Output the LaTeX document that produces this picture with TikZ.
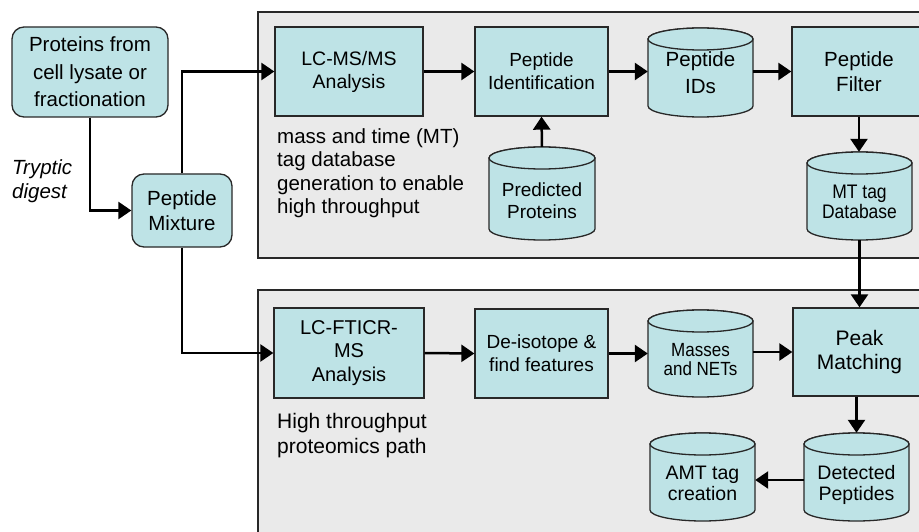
\documentclass[tikz,border=0pt]{standalone}
\usepackage{fontspec}
\usepackage{graphicx}
\setmainfont{Liberation Sans}
\usetikzlibrary{arrows.meta}
\definecolor{boxfill}{RGB}{190,227,230}
\definecolor{panelfill}{RGB}{234,234,234}
\definecolor{linecol}{RGB}{40,40,40}
\tikzset{
  proc/.style={draw=linecol, fill=boxfill, line width=1.3pt, inner sep=0pt, align=center},
  rproc/.style={proc, rounded corners=12pt},
  cylbody/.style={draw=linecol, fill=boxfill, line width=1.3pt},
  cyltext/.style={inner sep=0pt, align=center},
  panel/.style={draw=linecol, fill=panelfill, line width=1.3pt},
  arr/.style={line width=2.5pt, draw=black, -{Triangle[length=13pt,width=17pt]}},
  note/.style={inner sep=0pt, align=left, anchor=north west},
}
% box: style, name, x1, y1, x2, y2, text  (pixel coords, y downward)
\newcommand\mkbox[7]{%
  \pgfmathsetmacro\mybw{#5-#3}%
  \pgfmathsetmacro\mybh{#6-#4}%
  \pgfmathsetmacro\mybx{(#3+#5)/2}%
  \pgfmathsetmacro\myby{-(#4+#6)/2}%
  \node[#1, minimum width=\mybw pt, minimum height=\mybh pt] (#2) at (\mybx,\myby) {#7};
}
% cylinder: font, name, x1, ytop, x2, ybot, extra top space (2x text shift), text
\newcommand\mkcyl[8]{%
  \pgfmathsetmacro\mycx{(#3+#5)/2}%
  \pgfmathsetmacro\myrx{(#5-#3)/2}%
  \pgfmathsetmacro\mycw{#5-#3}%
  \pgfmathsetmacro\myyt{-#4-11}%
  \pgfmathsetmacro\myyb{-#6+11}%
  \pgfmathsetmacro\mych{#6-#4}%
  \pgfmathsetmacro\mycy{-(#4+#6)/2}%
  \filldraw[cylbody] (#3,\myyt) -- (#3,\myyb)
     arc[start angle=180,end angle=360,x radius=\myrx,y radius=11]
     -- (#5,\myyt)
     arc[start angle=0,end angle=180,x radius=\myrx,y radius=11] -- cycle;
  \filldraw[cylbody] (\mycx,\myyt) ellipse[x radius=\myrx,y radius=11];
  \node[cyltext, font=#1, minimum width=\mycw pt, minimum height=\mych pt] (#2) at (\mycx,\mycy)
     {\raisebox{0pt}[\dimexpr\height+#7pt\relax][\depth]{#8}};
}
\newcommand\twol[2]{\begin{tabular}{@{}c@{}}#1\\#2\end{tabular}}
\begin{document}
\begin{tikzpicture}[x=1pt,y=1pt]
\useasboundingbox (0,0) rectangle (919,-532);
\clip (0,0) rectangle (919,-532);
\fill[white] (0,0) rectangle (919,-532);

% panels
\draw[panel] (258,-12) rectangle (935,-258);
\draw[panel] (258,-290) rectangle (935,-545);

% left nodes
\mkbox{rproc, font=\fontsize{20.5}{27.5}\selectfont}{prot}{12}{27}{168}{117}{Proteins from\\cell lysate or\\fractionation}
\mkbox{rproc, font=\fontsize{20.5}{25}\selectfont}{mix}{132}{174}{232}{247}{Peptide\\Mixture}
\node[note, font=\itshape\fontsize{20.5}{24}\selectfont] (tryp) at (12,-159) {Tryptic\\digest};

% top panel
\mkbox{proc, font=\fontsize{19.5}{23}\selectfont}{lcms}{275}{27}{423}{116}{LC-MS/MS\\Analysis}
\mkbox{proc, font=\fontsize{19}{23}\selectfont}{pepid}{475}{27}{608}{116}{Peptide\\Identification}
\mkcyl{\fontsize{20.5}{27}\selectfont}{pepids}{648}{28}{753}{117}{5}{\twol{Peptide}{IDs}}
\mkbox{proc, font=\fontsize{20.5}{25}\selectfont}{filter}{792}{27}{926}{116}{Peptide\\Filter}
\mkcyl{\fontsize{19}{22}\selectfont}{pred}{489}{147}{595}{240}{19}{\twol{Predicted}{Proteins}}
\mkcyl{\fontsize{17.5}{17.5}\selectfont}{mtdb}{807}{152}{912}{240}{17}{\scalebox{1}[1.12]{\twol{MT tag}{Database}}}
\node[note, font=\fontsize{20.5}{23.5}\selectfont] (mtnote) at (277,-128)
  {mass and time (MT)\\tag database\\generation to enable\\high throughput};

% bottom panel
\mkbox{proc, font=\fontsize{20}{23.5}\selectfont}{lcft}{274}{308}{424}{398}{LC-FTICR-\\MS\\Analysis}
\mkbox{proc, font=\fontsize{19}{23}\selectfont}{deiso}{475}{309}{608}{398}{De-isotope \&\\find features}
\mkcyl{\fontsize{17}{17.5}\selectfont}{masses}{648}{310}{753}{397}{17}{\scalebox{1}[1.12]{\twol{Masses}{and NETs}}}
\mkbox{proc, font=\fontsize{21}{24}\selectfont}{peak}{793}{308}{926}{396}{Peak\\Matching}
\mkcyl{\fontsize{19.5}{21}\selectfont}{det}{804}{433}{909}{521}{17}{\twol{Detected}{Peptides}}
\mkcyl{\fontsize{19.5}{21}\selectfont}{amt}{650}{433}{755}{521}{17}{\twol{AMT tag}{creation}}
\node[note, font=\fontsize{21}{25}\selectfont] (htnote) at (277,-413)
  {High throughput\\proteomics path};

% connectors
\draw[arr] (prot.south) |- (mix.west);
\draw[arr] (mix.north) |- (lcms.west);
\draw[arr] (mix.south) |- (lcft.west);
\draw[arr] (lcms.east) -- (pepid.west);
\draw[arr] (pepid.east) -- (pepid.east -| pepids.west);
\draw[arr] (pepids.east |- filter.west) -- (filter.west);
\draw[arr] (pred.north) -- (pepid.south);
\draw[arr] (filter.south) -- (filter.south |- mtdb.north);
\draw[arr] (mtdb.south) -- (mtdb.south |- peak.north);
\draw[arr] (lcft.east) -- (deiso.west);
\draw[arr] (deiso.east) -- (deiso.east -| masses.west);
\draw[arr] (masses.east |- peak.west) -- (peak.west);
\draw[arr] (peak.south -| det.north) -- (det.north);
\draw[arr] (det.west |- 0,-480) -- (amt.east |- 0,-480);
\end{tikzpicture}
\end{document}
